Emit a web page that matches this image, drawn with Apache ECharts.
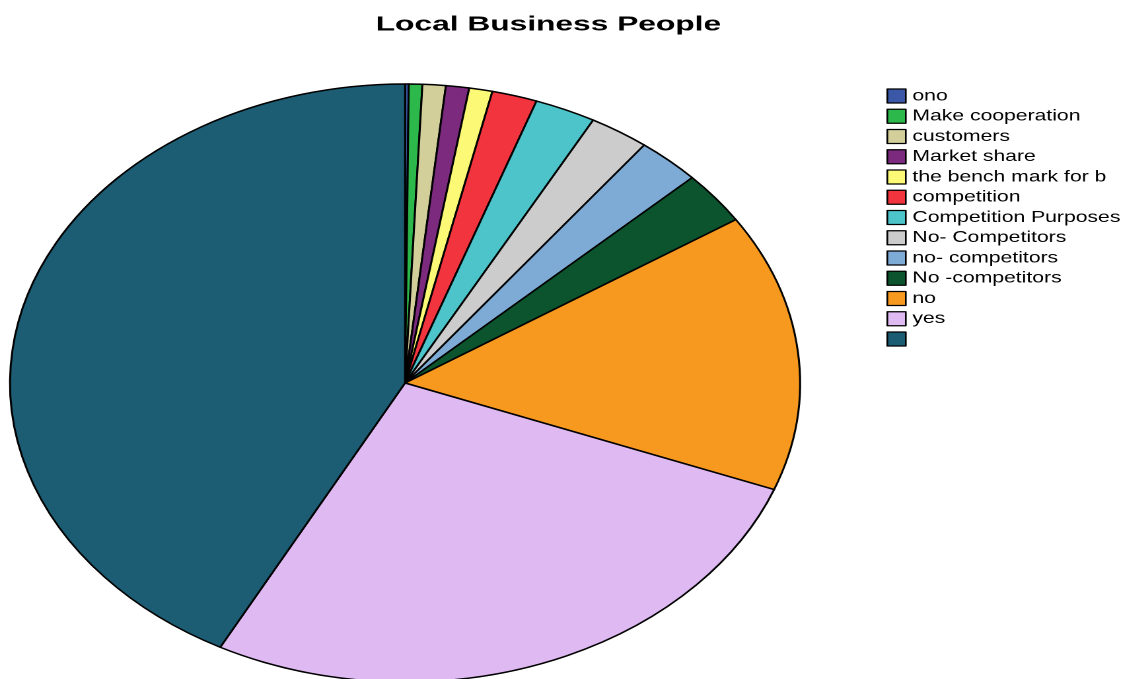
<!DOCTYPE html>
<html>
<head>
<meta charset="utf-8">
<title>Local Business People</title>
<script src="https://cdn.jsdelivr.net/npm/echarts@6/dist/echarts.min.js"></script>
<style>
  html, body { margin: 0; padding: 0; background: #fff; overflow: hidden; width: 1126px; height: 679px; }
  /* the chart is laid out in a narrower box and stretched horizontally,
     which turns the pie into a wide ellipse and widens the text with it */
  #chart { position: absolute; left: 0; top: 0; width: 852.3px; height: 679px;
           transform: scaleX(1.3211); transform-origin: 0 0; }
</style>
</head>
<body>
<div id="chart"></div>
<script>
const titleText = 'Local Business People';

const categories = [
  'ono',
  'Make cooperation',
  'customers',
  'Market share',
  'the bench mark for b',
  'competition',
  'Competition Purposes',
  'No- Competitors',
  'no- competitors',
  'No -competitors',
  'no',
  'yes',
  ' '
];

// share of answers (percent)
const values = [0.15, 0.55, 0.95, 0.95, 0.95, 1.85, 2.5, 2.45, 2.6, 2.85, 15.0, 26.95, 42.25];

const colors = [
  '#3b58a8', '#2db84b', '#d3cf9b', '#7b2a7d', '#fbf976', '#f1343e', '#4cc4c9',
  '#cccccc', '#7eabd6', '#0b542d', '#f7991f', '#dfb9f2', '#1c5d74'
];

const chart = echarts.init(document.getElementById('chart'), null, { devicePixelRatio: 2 });

const pieData = categories.map((name, i) => ({ name: name, value: values[i] }));

chart.setOption({
  animation: false,
  backgroundColor: '#ffffff',
  color: colors,
  graphic: [{
    type: 'text',
    x: 284.4,
    y: 25.2,
    scaleX: 1.2,
    silent: true,
    style: {
      text: titleText,
      font: 'bold 20px "Liberation Sans", Arial, sans-serif',
      fill: '#000000',
      align: 'left',
      verticalAlign: 'middle'
    }
  }],
  legend: {
    orient: 'vertical',
    left: 671,
    top: 88,
    padding: 0,
    icon: 'rect',
    itemWidth: 14,
    itemHeight: 14,
    itemGap: 4.25,
    selectedMode: false,
    itemStyle: { borderColor: '#000000', borderWidth: 1.3 },
    textStyle: {
      fontFamily: '"Liberation Sans", Arial, sans-serif',
      fontSize: 16,
      color: '#000000'
    },
    data: categories
  },
  series: [{
    type: 'pie',
    center: [306.6, 383],
    radius: [0, 299],
    startAngle: 90,
    clockwise: true,
    avoidLabelOverlap: false,
    label: { show: false },
    labelLine: { show: false },
    emphasis: { disabled: true },
    itemStyle: { borderColor: '#000000', borderWidth: 1.5 },
    data: pieData
  }]
});
</script>
</body>
</html>
